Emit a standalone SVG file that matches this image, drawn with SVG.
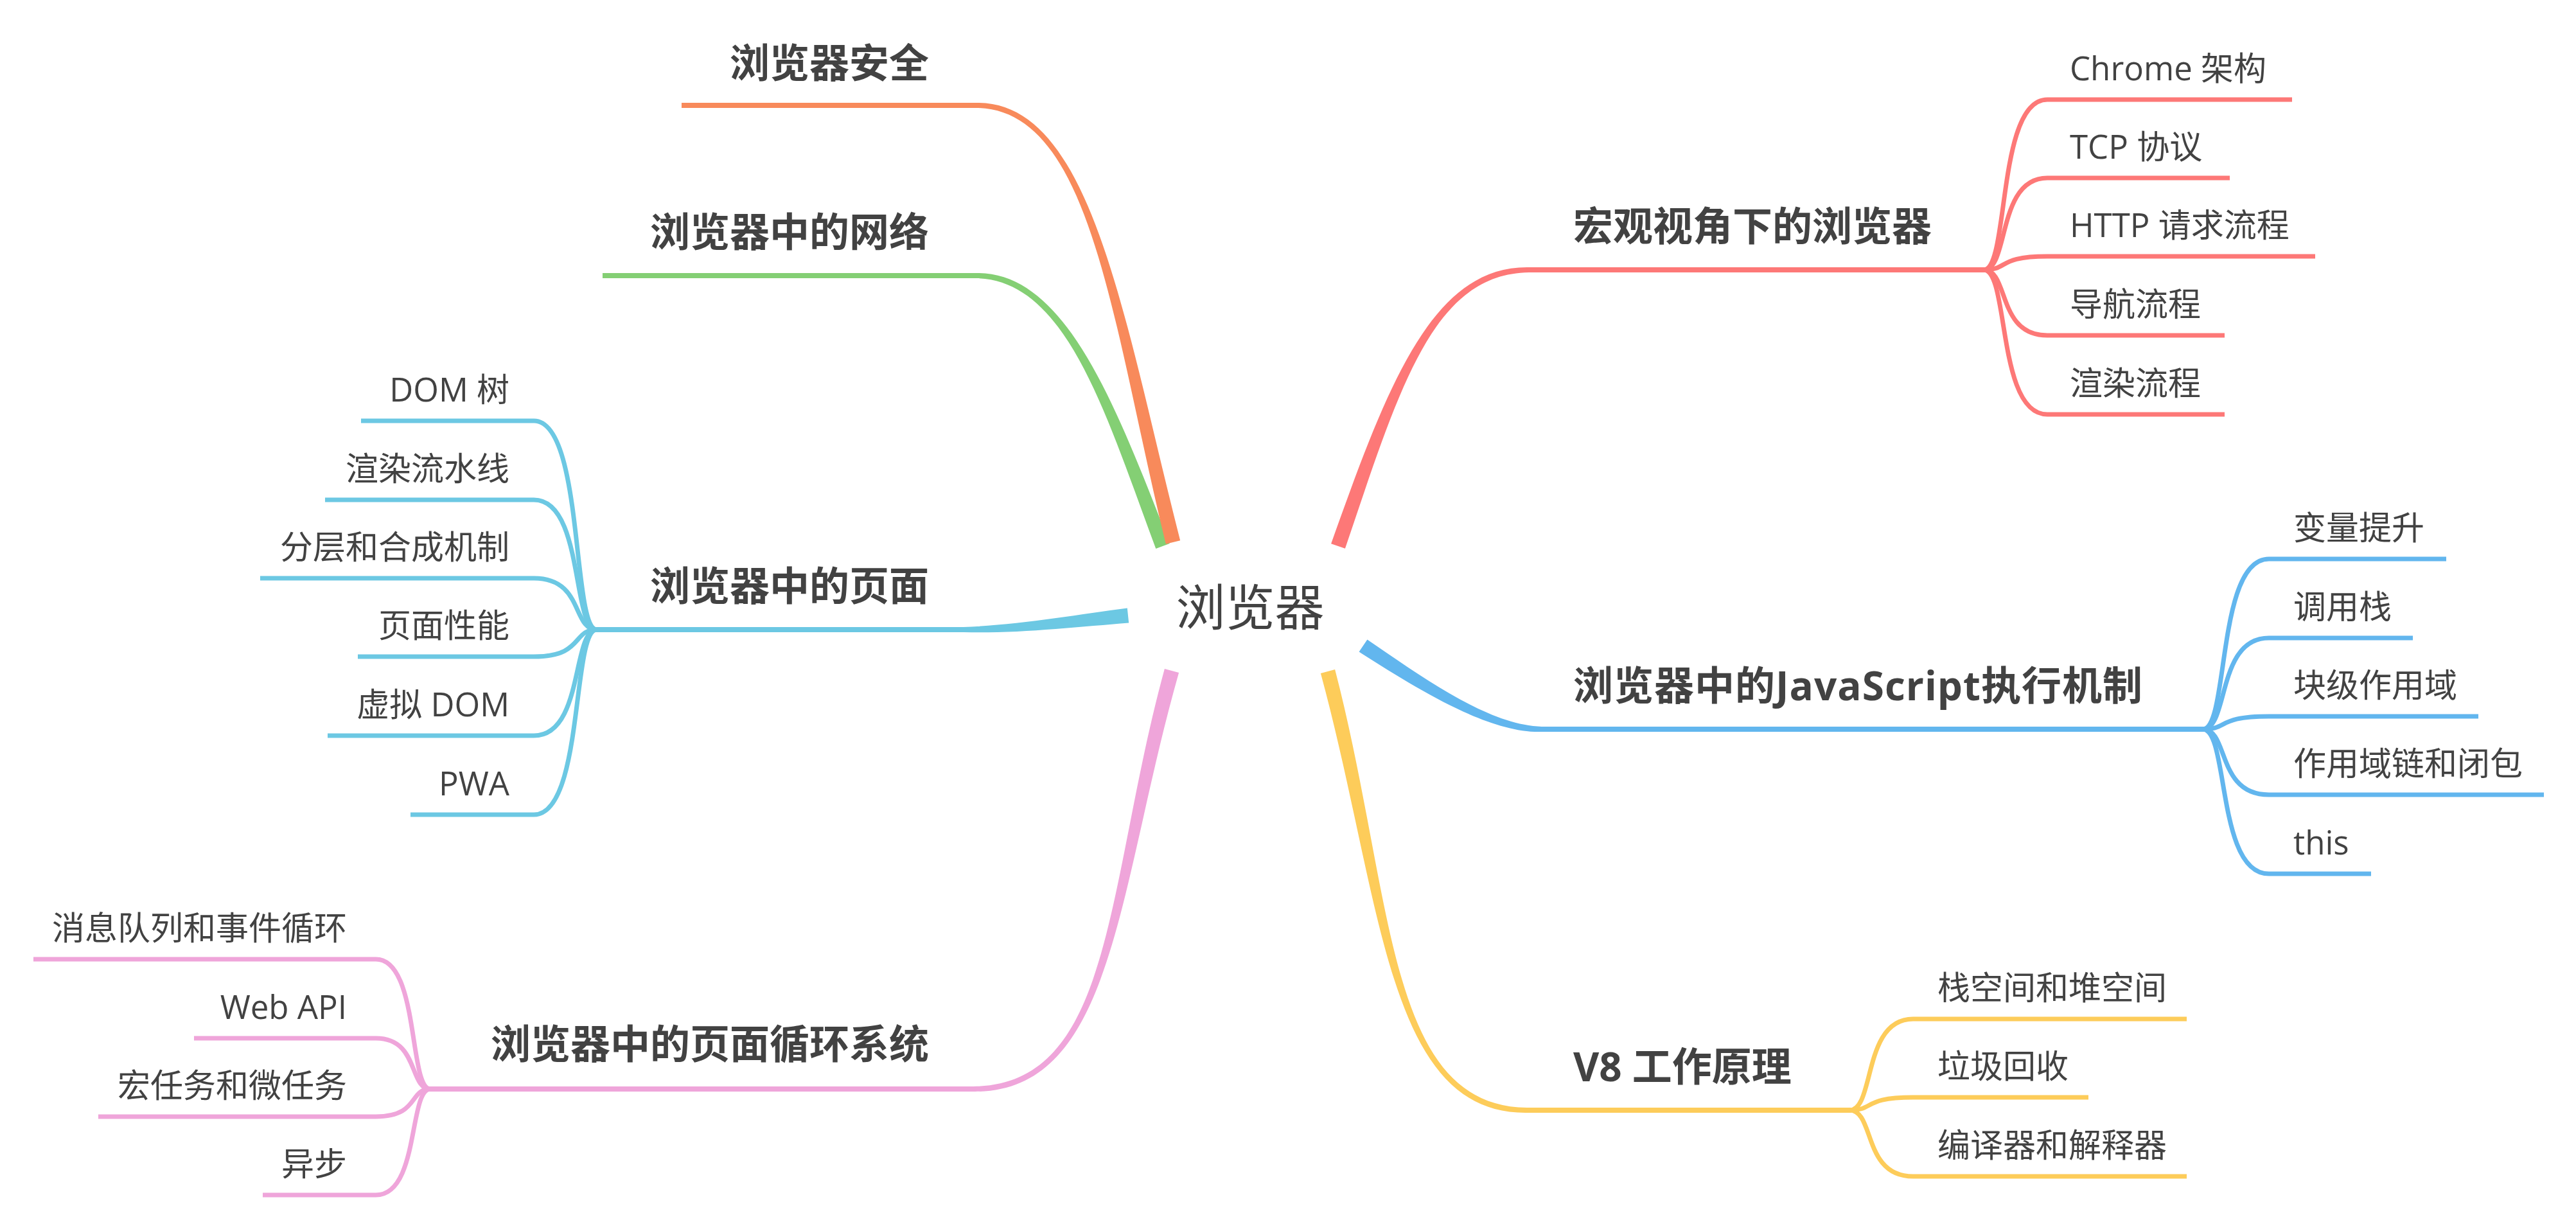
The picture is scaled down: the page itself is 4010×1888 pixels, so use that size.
<svg xmlns="http://www.w3.org/2000/svg" width="4010" height="1888" viewBox="0 0 4010 1888">
<style>
text{font-family:"Open Sans","Noto Sans CJK SC",sans-serif;fill:#424242}
.root{font-size:77px;text-anchor:middle}
.t{font-size:62px;font-weight:700}
.s{font-size:51px}
.e{text-anchor:end}
.m{fill:none;stroke-width:8}
.c{fill:none;stroke-width:7}
.red{stroke:#FD7877;fill:#FD7877}
.org{stroke:#F88A5B;fill:#F88A5B}
.grn{stroke:#84CF74;fill:#84CF74}
.cyn{stroke:#6CC8E3;fill:#6CC8E3}
.blu{stroke:#62B6EE;fill:#62B6EE}
.pnk{stroke:#EFA5DA;fill:#EFA5DA}
.yel{stroke:#FDCC5A;fill:#FDCC5A}
path.m,path.c,line{fill:none}
</style>
<rect width="4010" height="1888" fill="#ffffff"/>
<g id="connectors">
  <g class="grn">
    <path stroke="none" d="M1520 433 C1660 435.5 1721.1 643.4 1799.3 854.1 L1820.7 845.9 C1738.9 636.6 1660 422.5 1520 425 Z"/>
    <line class="m" x1="938" y1="429" x2="1522" y2="429"/>
  </g>
  <g class="org">
    <path stroke="none" d="M1520 168 C1700 170.5 1730.8 502.3 1814.8 846.8 L1837.2 841.2 C1749.2 497.7 1700 157.5 1520 160 Z"/>
    <line class="m" x1="1061" y1="164" x2="1522" y2="164"/>
  </g>
  <g class="red">
    <path stroke="none" d="M2380 416 C2230 413.5 2161 596.9 2072.1 846.2 L2093.9 853.8 C2179 603.1 2230 426.5 2380 424 Z"/>
    <line class="m" x1="2378" y1="420" x2="3090" y2="420"/>
    <path class="c" d="M3088 420 C3128 420 3108 155 3187 155 L3568 155"/>
    <path class="c" d="M3088 420 C3128 420 3108 277 3187 277 L3471 277"/>
    <path class="c" d="M3088 420 C3128 420 3108 399 3187 399 L3604 399"/>
    <path class="c" d="M3088 420 C3128 420 3108 522 3187 522 L3463 522"/>
    <path class="c" d="M3088 420 C3128 420 3108 645 3187 645 L3463 645"/>
  </g>
  <g class="cyn">
    <path stroke="none" d="M1500 984 C1580 986.5 1681 975.4 1757.2 969.4 L1754.8 946.6 C1679 956.6 1580 973.5 1500 976 Z"/>
    <line class="m" x1="927" y1="980" x2="1502" y2="980"/>
    <path class="c" d="M929 980 C890 980 909 655 831 655 L562 655"/>
    <path class="c" d="M929 980 C890 980 909 778 831 778 L506 778"/>
    <path class="c" d="M929 980 C890 980 909 900 831 900 L405 900"/>
    <path class="c" d="M929 980 C890 980 909 1022 831 1022 L557 1022"/>
    <path class="c" d="M929 980 C890 980 909 1145 831 1145 L510 1145"/>
    <path class="c" d="M929 980 C890 980 909 1268 831 1268 L639 1268"/>
  </g>
  <g class="blu">
    <path stroke="none" d="M2400 1131 C2320 1128.5 2225.3 1062.1 2128.4 995.4 L2115.6 1014.6 C2214.7 1077.9 2320 1141.5 2400 1139 Z"/>
    <line class="m" x1="2398" y1="1135" x2="3431" y2="1135"/>
    <path class="c" d="M3429 1135 C3470 1135 3450 870 3532 870 L3808 870"/>
    <path class="c" d="M3429 1135 C3470 1135 3450 993 3532 993 L3756 993"/>
    <path class="c" d="M3429 1135 C3470 1135 3450 1115 3532 1115 L3858 1115"/>
    <path class="c" d="M3429 1135 C3470 1135 3450 1237 3532 1237 L3960 1237"/>
    <path class="c" d="M3429 1135 C3470 1135 3450 1360 3532 1360 L3691 1360"/>
  </g>
  <g class="yel">
    <path stroke="none" d="M2377 1724 C2157 1721.5 2170.2 1395.6 2078.1 1042 L2055.9 1048 C2151.8 1400.4 2157 1734.5 2377 1732 Z"/>
    <line class="m" x1="2375" y1="1728" x2="2881" y2="1728"/>
    <path class="c" d="M2879 1728 C2919 1728 2899 1586 2978 1586 L3404 1586"/>
    <path class="c" d="M2879 1728 C2919 1728 2899 1708 2978 1708 L3251 1708"/>
    <path class="c" d="M2879 1728 C2919 1728 2899 1831 2978 1831 L3404 1831"/>
  </g>
  <g class="pnk">
    <path stroke="none" d="M1515 1699 C1735 1701.5 1739.2 1383.6 1835.1 1047.1 L1812.9 1040.9 C1720.8 1378.4 1735 1688.5 1515 1691 Z"/>
    <line class="m" x1="668" y1="1695" x2="1517" y2="1695"/>
    <path class="c" d="M670 1695 C636 1695 653 1493 585 1493 L52 1493"/>
    <path class="c" d="M670 1695 C636 1695 653 1616 585 1616 L302 1616"/>
    <path class="c" d="M670 1695 C636 1695 653 1738 585 1738 L153 1738"/>
    <path class="c" d="M670 1695 C636 1695 653 1860 585 1860 L409 1860"/>
  </g>
</g>
<g id="root"><text class="root" x="1946" y="974">浏览器</text></g>
<g id="n-security"><text class="t e" x="1446" y="121">浏览器安全</text></g>
<g id="n-network"><text class="t e" x="1446" y="384">浏览器中的网络</text></g>
<g id="n-page"><text class="t e" x="1446" y="935">浏览器中的页面</text>
  <text class="s e" x="793" y="625">DOM 树</text>
  <text class="s e" x="793" y="748">渲染流水线</text>
  <text class="s e" x="793" y="870">分层和合成机制</text>
  <text class="s e" x="793" y="992">页面性能</text>
  <text class="s e" x="793" y="1115">虚拟 DOM</text>
  <text class="s e" x="793" y="1238">PWA</text>
</g>
<g id="n-loop"><text class="t e" x="1446" y="1648">浏览器中的页面循环系统</text>
  <text class="s e" x="540" y="1463">消息队列和事件循环</text>
  <text class="s e" x="540" y="1586">Web API</text>
  <text class="s e" x="540" y="1708">宏任务和微任务</text>
  <text class="s e" x="540" y="1830">异步</text>
</g>
<g id="n-macro"><text class="t" x="2449" y="375">宏观视角下的浏览器</text>
  <text class="s" x="3222" y="125">Chrome 架构</text>
  <text class="s" x="3222" y="247">TCP 协议</text>
  <text class="s" x="3222" y="369">HTTP 请求流程</text>
  <text class="s" x="3222" y="492">导航流程</text>
  <text class="s" x="3222" y="615">渲染流程</text>
</g>
<g id="n-js"><text class="t" x="2449" y="1090" textLength="886" lengthAdjust="spacing">浏览器中的JavaScript执行机制</text>
  <text class="s" x="3570" y="840">变量提升</text>
  <text class="s" x="3570" y="963">调用栈</text>
  <text class="s" x="3570" y="1085">块级作用域</text>
  <text class="s" x="3570" y="1207">作用域链和闭包</text>
  <text class="s" x="3570" y="1330">this</text>
</g>
<g id="n-v8"><text class="t" x="2449" y="1683">V8 工作原理</text>
  <text class="s" x="3016" y="1556">栈空间和堆空间</text>
  <text class="s" x="3016" y="1678">垃圾回收</text>
  <text class="s" x="3016" y="1801">编译器和解释器</text>
</g>
</svg>
